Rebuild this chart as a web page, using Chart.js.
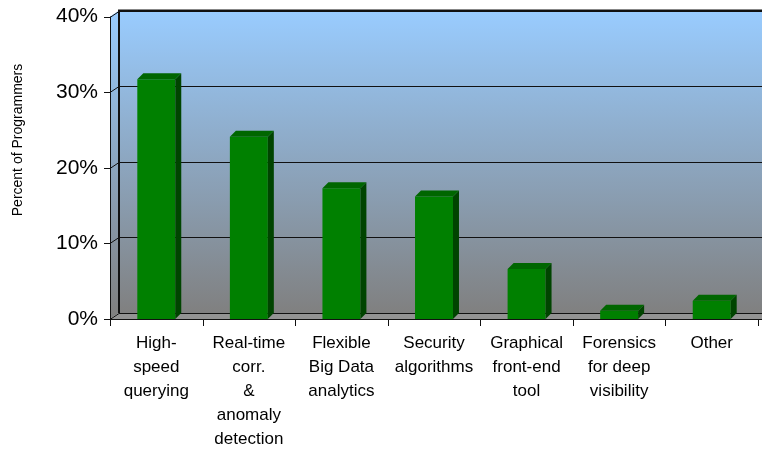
<!DOCTYPE html>
<html>
<head>
<meta charset="utf-8">
<script src="https://cdn.jsdelivr.net/npm/chart.js@4/dist/chart.umd.min.js"></script>
<style>
html,body{margin:0;padding:0;background:#fff;}
canvas{display:block;}
</style>
</head>
<body>
<canvas id="c" width="762" height="449"></canvas>
<script>
const categories = [
  ["High-","speed","querying"],
  ["Real-time","corr.","&","anomaly","detection"],
  ["Flexible","Big Data","analytics"],
  ["Security","algorithms"],
  ["Graphical","front-end","tool"],
  ["Forensics","for deep","visibility"],
  ["Other"]
];
const percentValues = [31.7, 24.1, 17.3, 16.2, 6.6, 1.1, 2.4];
const yTicks = [0, 10, 20, 30, 40];
const yTitle = "Percent of Programmers";

const FONT = 'Arial, "Liberation Sans", sans-serif';
const WALL_DX = 9, WALL_DY = -6, BAR_DX = 6, BAR_DY = -6;

const scene3d = {
  id: 'scene3d',
  beforeDatasetsDraw(chart) {
    const ctx = chart.ctx, a = chart.chartArea, ys = chart.scales.y;
    const W = chart.width;
    const top = a.top, bot = a.bottom, L = a.left;
    ctx.save();
    const g = ctx.createLinearGradient(0, top + WALL_DY, 0, bot + WALL_DY);
    g.addColorStop(0, '#99CCFF');
    g.addColorStop(1, '#808080');
    ctx.fillStyle = g;
    ctx.fillRect(L + WALL_DX, top + WALL_DY, W - (L + WALL_DX), bot - top);
    ctx.beginPath();
    ctx.moveTo(L, top); ctx.lineTo(L + WALL_DX, top + WALL_DY);
    ctx.lineTo(L + WALL_DX, bot + WALL_DY); ctx.lineTo(L, bot); ctx.closePath();
    ctx.fill();
    ctx.fillStyle = '#939393';
    ctx.beginPath();
    ctx.moveTo(L, bot); ctx.lineTo(W, bot);
    ctx.lineTo(W, bot + WALL_DY); ctx.lineTo(L + WALL_DX, bot + WALL_DY); ctx.closePath();
    ctx.fill();
    ctx.strokeStyle = '#111';
    yTicks.forEach(v => {
      const y = Math.round(ys.getPixelForValue(v)) + 0.5;
      ctx.lineWidth = 1.2;
      ctx.beginPath();
      ctx.moveTo(L + WALL_DX, y + WALL_DY); ctx.lineTo(W, y + WALL_DY);
      ctx.stroke();
      ctx.lineWidth = 1;
      ctx.beginPath();
      ctx.moveTo(L - 6, y); ctx.lineTo(L, y); ctx.lineTo(L + WALL_DX, y + WALL_DY);
      ctx.stroke();
    });
    ctx.lineWidth = 2;
    ctx.beginPath();
    ctx.moveTo(W, top + WALL_DY); ctx.lineTo(L + WALL_DX, top + WALL_DY);
    ctx.lineTo(L + WALL_DX, bot + WALL_DY);
    ctx.stroke();
    ctx.lineWidth = 1;
    ctx.beginPath();
    ctx.moveTo(L + 0.5, top); ctx.lineTo(L + 0.5, bot);
    ctx.stroke();
    ctx.restore();
  },
  afterDatasetsDraw(chart) {
    const ctx = chart.ctx, a = chart.chartArea;
    const W = chart.width;
    const meta = chart.getDatasetMeta(0);
    ctx.save();
    meta.data.forEach(bar => {
      const p = bar.getProps(['x', 'y', 'base', 'width'], true);
      const l = p.x - p.width / 2, r = p.x + p.width / 2;
      ctx.fillStyle = '#004400';
      ctx.beginPath();
      ctx.moveTo(r, p.y); ctx.lineTo(r + BAR_DX, p.y + BAR_DY);
      ctx.lineTo(r + BAR_DX, p.base + BAR_DY); ctx.lineTo(r, p.base); ctx.closePath();
      ctx.fill();
      ctx.fillStyle = '#006600';
      ctx.beginPath();
      ctx.moveTo(l, p.y); ctx.lineTo(r, p.y);
      ctx.lineTo(r + BAR_DX, p.y + BAR_DY); ctx.lineTo(l + BAR_DX, p.y + BAR_DY); ctx.closePath();
      ctx.fill();
    });
    ctx.strokeStyle = '#111';
    ctx.lineWidth = 1;
    const yb = Math.round(a.bottom) + 0.5;
    ctx.beginPath();
    ctx.moveTo(a.left, yb); ctx.lineTo(W, yb);
    ctx.stroke();
    const n = categories.length;
    const step = (a.right - a.left) / n;
    for (let i = 0; i <= n; i++) {
      const x = Math.round(a.left + i * step) + 0.5;
      ctx.beginPath();
      ctx.moveTo(x, a.bottom); ctx.lineTo(x, a.bottom + 7);
      ctx.stroke();
    }
    ctx.fillStyle = '#000';
    ctx.font = '14px ' + FONT;
    ctx.textAlign = 'center';
    ctx.textBaseline = 'middle';
    ctx.translate(18, 140);
    ctx.rotate(-Math.PI / 2);
    ctx.fillText(yTitle, 0, 0);
    ctx.restore();
  }
};

new Chart(document.getElementById('c'), {
  type: 'bar',
  data: {
    labels: categories,
    datasets: [{
      data: percentValues,
      backgroundColor: '#008000',
      borderWidth: 0,
      barPercentage: 0.41,
      categoryPercentage: 1
    }]
  },
  options: {
    responsive: false,
    devicePixelRatio: 1,
    animation: false,
    layout: { padding: { left: 0, right: 4, top: 8, bottom: 0 } },
    plugins: { legend: { display: false }, tooltip: { enabled: false } },
    scales: {
      x: {
        grid: { display: false },
        border: { display: false },
        afterFit: s => { s.height = 130; },
        ticks: {
          autoSkip: false, maxRotation: 0, minRotation: 0,
          color: '#000', padding: 4,
          font: { family: FONT, size: 17, lineHeight: 1.42 }
        }
      },
      y: {
        min: 0, max: 40,
        grid: { display: false },
        border: { display: false },
        afterFit: s => { s.width = 110; },
        afterBuildTicks: s => { s.ticks = yTicks.map(v => ({ value: v })); },
        ticks: {
          color: '#000', padding: 4,
          font: { family: FONT, size: 21 },
          callback: v => v + '%'
        }
      }
    }
  },
  plugins: [scene3d]
});
</script>
</body>
</html>
